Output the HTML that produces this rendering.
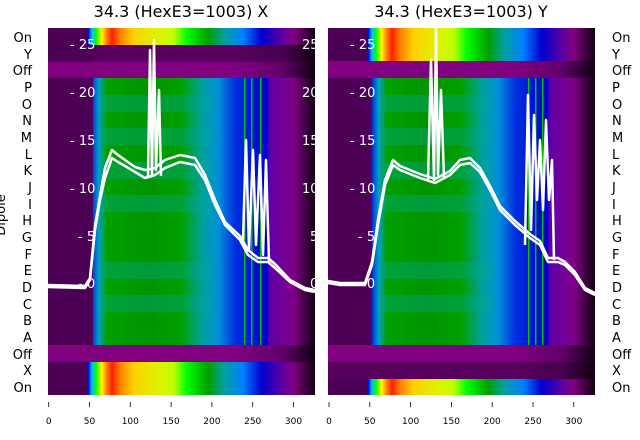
<!DOCTYPE html>
<html><head><meta charset="utf-8"><style>body{margin:0;background:#fff}svg{display:block;font-family:"DejaVu Sans","Liberation Sans",sans-serif}</style></head><body>
<svg width="640" height="440" viewBox="0 0 640 440" xmlns="http://www.w3.org/2000/svg">
<defs>
<linearGradient id="main" gradientUnits="userSpaceOnUse" x1="0" y1="0" x2="267" y2="0">
<stop offset="0.165" stop-color="#0030d8"/><stop offset="0.19" stop-color="#00a0c8"/><stop offset="0.22" stop-color="#00a000"/><stop offset="0.38" stop-color="#009400"/><stop offset="0.5" stop-color="#00a000"/><stop offset="0.58" stop-color="#00a0a0"/><stop offset="0.64" stop-color="#0090d8"/><stop offset="0.7" stop-color="#0030e0"/><stop offset="0.82" stop-color="#0000d0"/><stop offset="0.83" stop-color="#6000a8"/><stop offset="0.92" stop-color="#800088"/><stop offset="1" stop-color="#100010"/>
</linearGradient>
<linearGradient id="rain" gradientUnits="userSpaceOnUse" x1="0" y1="0" x2="267" y2="0">
<stop offset="0.15" stop-color="#0000d0"/><stop offset="0.165" stop-color="#00c0ff"/><stop offset="0.18" stop-color="#00ff00"/><stop offset="0.2" stop-color="#ffff00"/><stop offset="0.22" stop-color="#ff8000"/><stop offset="0.24" stop-color="#ff2000"/><stop offset="0.27" stop-color="#ff8000"/><stop offset="0.32" stop-color="#ffd000"/><stop offset="0.41" stop-color="#e0f000"/><stop offset="0.47" stop-color="#c0ff00"/><stop offset="0.52" stop-color="#00ff00"/><stop offset="0.6" stop-color="#00a000"/><stop offset="0.66" stop-color="#00a0a0"/><stop offset="0.73" stop-color="#0080ff"/><stop offset="0.8" stop-color="#0000d0"/><stop offset="0.88" stop-color="#6000a0"/><stop offset="0.92" stop-color="#800080"/><stop offset="1" stop-color="#100010"/>
</linearGradient>
<linearGradient id="off" gradientUnits="userSpaceOnUse" x1="0" y1="0" x2="267" y2="0">
<stop offset="0.7" stop-color="#800080"/><stop offset="0.88" stop-color="#600068"/><stop offset="1" stop-color="#100010"/>
</linearGradient>
<linearGradient id="dk" gradientUnits="userSpaceOnUse" x1="0" y1="0" x2="267" y2="0">
<stop offset="0.7" stop-color="#58005e"/><stop offset="0.88" stop-color="#48004e"/><stop offset="1" stop-color="#100010"/>
</linearGradient>
<clipPath id="cp"><rect x="0" y="28" width="267" height="367"/></clipPath>
<g id="bands" fill="#00a8a0" opacity="0.35">
<rect x="55" y="95" width="110" height="17"/><rect x="55" y="128" width="110" height="17"/><rect x="55" y="162" width="110" height="17"/><rect x="55" y="195" width="110" height="17"/><rect x="55" y="262" width="110" height="17"/><rect x="55" y="295" width="110" height="17"/>
</g>
</defs>
<text x="181" y="17" font-size="16" text-anchor="middle">34.3 (HexE3=1003) X</text>
<text x="461" y="17" font-size="16" text-anchor="middle">34.3 (HexE3=1003) Y</text>
<!-- left panel -->
<g transform="translate(48,0)" clip-path="url(#cp)">
<rect x="0" y="28" width="267" height="367" fill="url(#dk)"/>
<rect x="0" y="28" width="45" height="367" fill="#4c0056"/>
<rect x="40" y="28" width="227" height="17" fill="url(#rain)"/>
<rect x="0" y="62" width="267" height="16" fill="url(#off)"/>
<rect x="45" y="78" width="222" height="267" fill="url(#main)"/>
<use href="#bands"/>
<rect x="0" y="345" width="267" height="17" fill="url(#off)"/>
<rect x="40" y="362" width="227" height="33" fill="url(#rain)"/>
<g fill="#00c000"><rect x="196" y="78" width="1.5" height="267"/><rect x="203" y="78" width="1.5" height="267"/><rect x="212" y="78" width="1.5" height="267"/></g>
<g fill="none" stroke="#fff" stroke-width="2.5" stroke-linejoin="round">
<path d="M0,287 L37,288 L42,280 L47,230 L52,200 L57,178 L64,158 L70,162 L77,166 L87,172 L97,178 L107,175 L117,168 L132,162 L147,165 L157,180 L167,205 L177,225 L192,240 L200,255 L210,262 L220,262 L227,268 L242,282 L257,290 L267,292"/>
<path d="M0,285 L37,286 L42,278 L47,226 L52,196 L57,168 L64,150 L70,155 L77,160 L87,167 L97,170 L107,168 L117,160 L132,155 L147,158 L157,175 L167,200 L177,222 L192,236 L200,250 L210,258 L220,258 L227,264 L242,280 L257,288 L267,290"/>
<path d="M100,176 L102,50 L104,176 L106,40 L108,170 L111,90 L113,176 M195,240 L198,140 L201,250 L205,150 L208,245 L212,155 L215,255 L218,160 L221,262"/>
</g>
<g fill="#fff" font-size="13"><text x="22" y="49">- 25</text><text x="22" y="97">- 20</text><text x="22" y="145">- 15</text><text x="22" y="193">- 10</text><text x="30" y="241">- 5</text><text x="30" y="288">- 0</text>
<text x="254" y="49">25</text><text x="254" y="97">20</text><text x="254" y="145">15</text><text x="254" y="193">10</text><text x="262" y="241">5</text><text x="262" y="288">0</text></g>
</g>
<!-- right panel -->
<g transform="translate(328,0)" clip-path="url(#cp)">
<rect x="0" y="28" width="267" height="367" fill="url(#dk)"/>
<rect x="0" y="28" width="42" height="367" fill="#4c0056"/>
<rect x="40" y="28" width="227" height="33" fill="url(#rain)"/>
<rect x="0" y="61" width="267" height="17" fill="url(#off)"/>
<rect x="44" y="78" width="223" height="267" fill="url(#main)"/>
<use href="#bands"/>
<rect x="0" y="345" width="267" height="17" fill="url(#off)"/>
<rect x="0" y="362" width="267" height="17" fill="url(#dk)"/>
<rect x="40" y="379" width="227" height="16" fill="url(#rain)"/>
<g fill="#00c000"><rect x="200" y="78" width="1.5" height="267"/><rect x="207" y="78" width="1.5" height="267"/><rect x="214" y="78" width="1.5" height="267"/></g>
<g fill="none" stroke="#fff" stroke-width="2.5" stroke-linejoin="round">
<path d="M0,283 L12,285 L37,285 L44,265 L50,225 L57,185 L65,165 L72,170 L92,178 L107,183 L122,175 L132,165 L142,163 L152,172 L162,190 L172,210 L187,225 L202,238 L212,245 L220,262 L230,262 L237,265 L247,275 L257,290 L267,295"/>
<path d="M0,281 L12,283 L37,283 L44,262 L50,220 L57,180 L65,160 L72,166 L92,174 L107,179 L122,171 L132,160 L142,158 L152,168 L162,186 L172,206 L187,221 L202,234 L212,241 L220,258 L230,258 L237,262 L247,272 L257,288 L267,293"/>
<path d="M100,180 L103,60 L106,180 L108,28 L110,175 L113,90 L116,178 M197,245 L200,95 L203,230 L206,115 L209,200 L212,140 L215,210 L218,120 L221,200 L224,160 L226,260"/>
</g>
<g fill="#fff" font-size="13"><text x="22" y="49">- 25</text><text x="22" y="97">- 20</text><text x="22" y="145">- 15</text><text x="22" y="193">- 10</text><text x="30" y="241">- 5</text><text x="30" y="288">- 0</text></g>
</g>
<!-- left labels -->
<g font-size="13" text-anchor="end" fill="#000">
<text x="32" y="42">On</text><text x="32" y="59">Y</text><text x="32" y="75">Off</text><text x="32" y="92">P</text><text x="32" y="109">O</text><text x="32" y="125">N</text><text x="32" y="142">M</text><text x="32" y="159">L</text><text x="32" y="175">K</text><text x="32" y="192">J</text><text x="32" y="209">I</text><text x="32" y="225">H</text><text x="32" y="242">G</text><text x="32" y="259">F</text><text x="32" y="275">E</text><text x="32" y="292">D</text><text x="32" y="309">C</text><text x="32" y="325">B</text><text x="32" y="342">A</text><text x="32" y="359">Off</text><text x="32" y="375">X</text><text x="32" y="392">On</text>
</g>
<text transform="translate(5,215) rotate(-90)" font-size="13" text-anchor="middle">Dipole</text>
<g font-size="13" fill="#000">
<text x="612" y="42">On</text><text x="612" y="59">Y</text><text x="612" y="75">Off</text><text x="612" y="92">P</text><text x="612" y="109">O</text><text x="612" y="125">N</text><text x="612" y="142">M</text><text x="612" y="159">L</text><text x="612" y="175">K</text><text x="612" y="192">J</text><text x="612" y="209">I</text><text x="612" y="225">H</text><text x="612" y="242">G</text><text x="612" y="259">F</text><text x="612" y="275">E</text><text x="612" y="292">D</text><text x="612" y="309">C</text><text x="612" y="325">B</text><text x="612" y="342">A</text><text x="612" y="359">Off</text><text x="612" y="375">X</text><text x="612" y="392">On</text>
</g>
<g stroke="#000" stroke-width="0.8">
<path d="M48.7,402v5M89.5,402v5M130.3,402v5M171.1,402v5M211.9,402v5M252.7,402v5M293.5,402v5"/>
<path d="M329,402v5M369.8,402v5M410.6,402v5M451.4,402v5M492.2,402v5M533,402v5M573.8,402v5"/>
</g>
<g font-size="9" text-anchor="middle" fill="#000">
<text x="48.7" y="424">0</text><text x="89.5" y="424">50</text><text x="130.3" y="424">100</text><text x="171.1" y="424">150</text><text x="211.9" y="424">200</text><text x="252.7" y="424">250</text><text x="293.5" y="424">300</text>
<text x="329" y="424">0</text><text x="369.8" y="424">50</text><text x="410.6" y="424">100</text><text x="451.4" y="424">150</text><text x="492.2" y="424">200</text><text x="533" y="424">250</text><text x="573.8" y="424">300</text>
</g>
</svg>
</body></html>
